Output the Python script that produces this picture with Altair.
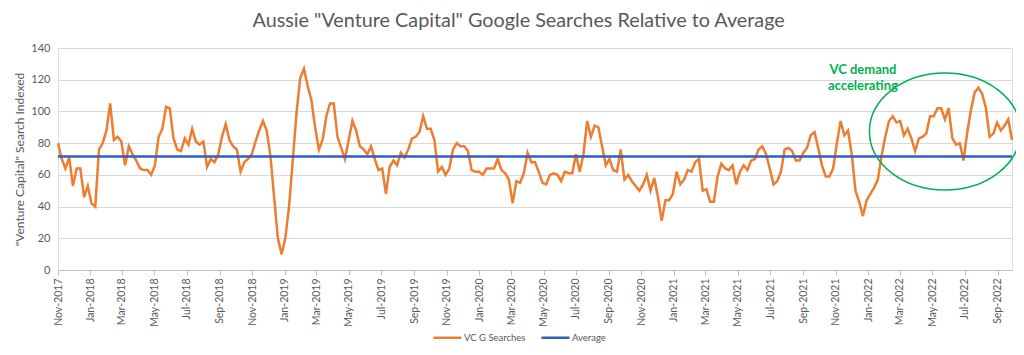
import altair as alt
import pandas as pd

# ---------------- data ----------------
START_DATE = "2017-11-05"          # first weekly observation
vc_searches = [
    80, 70, 64, 71, 53, 64, 64, 46, 53, 42, 40, 76, 80, 88, 105, 82, 84, 81, 66, 78,
    73, 69, 64, 63, 63, 60, 66, 84, 89, 103, 102, 83, 76, 75, 83, 79, 89,
    81, 79, 81, 65, 70, 68, 73, 84, 92, 82, 78, 76, 62, 68, 70, 73, 81, 88, 94, 88,
    72, 46, 20, 10, 20, 40, 69, 99, 121, 127, 116, 107, 90, 76, 82, 97, 105,
    105, 84, 77, 70, 82, 94, 88, 78, 76, 73, 78, 70, 63, 64, 48, 65, 69, 66, 74, 71,
    76, 83, 84, 87, 97, 89, 89, 82, 62, 65, 60, 64, 76, 80, 78, 78,
    75, 63, 62, 62, 60, 64, 64, 64, 70, 63, 61, 57, 42, 56, 55, 61, 74, 68, 68, 62,
    55, 54, 60, 61, 60, 56, 62, 61, 61, 73, 62, 73, 94, 84, 91, 90,
    78, 66, 70, 63, 62, 76, 57, 60, 56, 53, 50, 54, 60, 50, 58, 46, 31, 44, 44, 48,
    62, 54, 57, 63, 62, 68, 70, 50, 51, 43, 43, 59, 67, 64, 63, 66, 54,
    62, 66, 63, 69, 70, 76, 78, 73, 64, 54, 56, 62, 76, 77, 75, 69, 69, 74, 77, 85,
    87, 77, 66, 59, 59, 64, 80, 94, 85, 88, 73, 50, 43, 34, 44, 48,
    52, 57, 72, 84, 94, 97, 93, 94, 85, 89, 83, 75, 83, 84, 86, 97, 97, 102, 102, 95,
    102, 83, 79, 80, 69, 87, 101, 112, 115, 111, 102, 84, 86, 93, 88, 91, 95, 82,
]
average_value = 71.6

series_names = ["VC G Searches", "Average"]
series_colors = ["#ED7D31", "#2F5FBF"]

y_ticks = [0, 20, 40, 60, 80, 100, 120, 140]
x_tick_months = [
    (2017, 11),
    (2018, 1), (2018, 3), (2018, 5), (2018, 7), (2018, 9), (2018, 11),
    (2019, 1), (2019, 3), (2019, 5), (2019, 7), (2019, 9), (2019, 11),
    (2020, 1), (2020, 3), (2020, 5), (2020, 7), (2020, 9), (2020, 11),
    (2021, 1), (2021, 3), (2021, 5), (2021, 7), (2021, 9), (2021, 11),
    (2022, 1), (2022, 3), (2022, 5), (2022, 7), (2022, 9),
]

# annotation
note_lines = ["VC demand", "accelerating"]
note_dates = ["2021-12-26", "2021-12-26"]
note_values = [126.3, 116.2]
ellipse_date = ["2022-05-29"]
ellipse_value = [87.4]

title_text = 'Aussie "Venture Capital" Google Searches Relative to Average'
y_title = '"Venture Capital" Search Indexed'

FONT = "Lato"
GREY = "#595959"

# ---------------- tables ----------------
dates = pd.date_range(START_DATE, periods=len(vc_searches), freq="7D").strftime("%Y-%m-%d")
df_vc = pd.DataFrame({"date": dates, "value": vc_searches, "series": series_names[0]})
df_avg = pd.DataFrame({"date": dates, "value": [average_value] * len(dates), "series": series_names[1]})
df_note = pd.DataFrame({"date": note_dates, "value": note_values, "label": note_lines})
df_ell = pd.DataFrame({"date": ellipse_date, "value": ellipse_value})

x_enc = alt.X(
    "date:T",
    scale=alt.Scale(
        type="utc",
        domain=[alt.DateTime(year=2017, month=11, date=5, utc=True),
                alt.DateTime(year=2022, month=10, date=2, utc=True)],
    ),
    axis=alt.Axis(
        title=None,
        values=[alt.DateTime(year=y, month=m, date=5, utc=True) for y, m in x_tick_months],
        labelExpr="utcFormat(datum.value, '%b-%Y')",
        labelAngle=270,
        labelFont=FONT,
        labelFontSize=10.5,
        labelColor=GREY,
        labelPadding=3,
        labelOverlap=False,
        labelBound=False,
        grid=False,
        domainColor="#BFBFBF",
        tickColor="#BFBFBF",
        tickSize=5,
    ),
)

y_enc = alt.Y(
    "value:Q",
    scale=alt.Scale(domain=[0, 140], nice=False),
    axis=alt.Axis(
        title=y_title,
        values=y_ticks,
        grid=True,
        gridColor="#D9D9D9",
        domain=False,
        ticks=False,
        labelOverlap=False,
        labelPadding=8,
        labelFont=FONT,
        labelFontSize=11,
        labelColor=GREY,
        titleFont=FONT,
        titleFontSize=12,
        titleFontWeight="normal",
        titleColor=GREY,
        titlePadding=4,
    ),
)

color_enc = alt.Color(
    "series:N",
    scale=alt.Scale(domain=series_names, range=series_colors),
    legend=alt.Legend(
        title=None,
        orient="none",
        direction="horizontal",
        legendX=374,
        legendY=274,
        symbolType="stroke",
        symbolSize=784,
        symbolStrokeWidth=2.5,
        labelFont=FONT,
        labelFontSize=9.5,
        labelColor=GREY,
        labelOffset=1,
        columnPadding=10,
        padding=0,
    ),
)

vc_line = alt.Chart(df_vc).mark_line(strokeWidth=2.5).encode(x=x_enc, y=y_enc, color=color_enc)
avg_line = alt.Chart(df_avg).mark_line(strokeWidth=2.5).encode(x=x_enc, y=y_enc, color=color_enc)

ellipse = alt.Chart(df_ell).mark_point(
    shape="M -1 0 A 1 0.775 0 1 0 1 0 A 1 0.775 0 1 0 -1 0 Z",
    size=22801,
    filled=False,
    color="#00B050",
    strokeWidth=1.5,
    opacity=1,
).encode(x=x_enc, y=y_enc)

note = alt.Chart(df_note).mark_text(
    font=FONT, fontSize=13, fontWeight="bold", color="#00B050", align="center", baseline="middle"
).encode(x=x_enc, y=y_enc, text="label:N")

chart = (
    alt.layer(vc_line, avg_line, ellipse, note)
    .properties(
        width=954,
        height=222,
        autosize=alt.AutoSizeParams(type="none"),
        padding={"left": 50, "top": 40, "right": 4, "bottom": 77},
        title=alt.TitleParams(
            text=title_text,
            font=FONT,
            fontSize=19.8,
            fontWeight="normal",
            color=GREY,
            anchor="middle",
            frame="bounds",
            offset=11,
        ),
    )
    .configure_view(stroke=None)
    .configure(background="white")
)

chart.save("out.html", embed_options={"renderer": "svg", "actions": False})
